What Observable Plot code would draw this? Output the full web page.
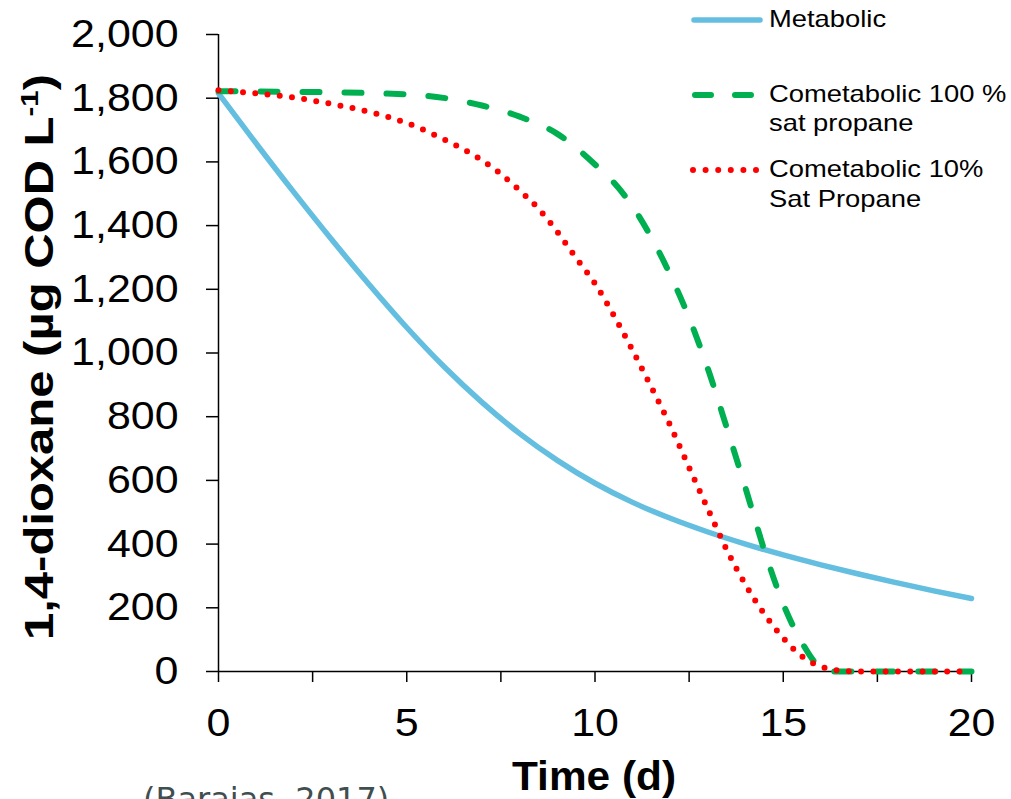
<!DOCTYPE html>
<html>
<head>
<meta charset="utf-8">
<script src="https://cdn.jsdelivr.net/npm/d3@7"></script>
<script src="https://cdn.jsdelivr.net/npm/@observablehq/plot@0.6"></script>
<style>
  html, body { margin: 0; padding: 0; background: #ffffff; overflow: hidden; }
  #chart { width: 1011px; height: 799px; position: relative; }
</style>
</head>
<body>
<div id="chart"></div>
<script>
// ---- Data ----
const metabolicTime   = [0,1,2,3,4,5,6,7,8,9,10,11,12,13,14,15,16,17,18,19,20];
const metabolicValues = [1815,1658,1505,1357,1215,1080,956,845,747,663,591,531,481,438,400,366,335,306,279,253,229];

const co100Time   = [0,2,4,5.5,6.5,7,8,9,10,10.5,11,11.5,12,12.5,13,13.5,14,14.5,15,15.5,16,16.2,17,18,19,20];
const co100Values = [1822,1820,1816,1808,1790,1777,1742,1688,1592,1535,1460,1362,1245,1110,950,765,575,380,212,90,10,0,0,0,0,0];

const co10Time   = [0,1,2,3,4,5,6,7,7.5,8,8.5,9,9.5,10,10.5,11,11.5,12,12.5,13,13.5,14,14.5,15,15.5,16,16.5,17,18,19,20];
const co10Values = [1825,1815,1802,1782,1757,1722,1670,1605,1562,1510,1453,1380,1298,1218,1118,1008,892,772,640,510,382,272,180,105,47,16,3,0,0,0,0];

const xTickValues  = [0,2.5,5,7.5,10,12.5,15,17.5,20];
const xLabelValues = [0,5,10,15,20];
const yTickValues  = [0,200,400,600,800,1000,1200,1400,1600,1800,2000];

const legendLines = [["Metabolic"], ["Cometabolic 100 %", "sat propane"], ["Cometabolic 10%", "Sat Propane"]];
const xTitle = "Time (d)";
const yTitle = "1,4-dioxane (µg COD L";
const yTitleSup = "-1";
const sourceText = "(Barajas, 2017)";

const colors = {metabolic: "#64BEE0", co100: "#00B050", co10: "#FF0000"};

const toRows = (ts, vs) => ts.map((t, i) => ({t, v: vs[i]}));
const metabolic = toRows(metabolicTime, metabolicValues);
const co100 = toRows(co100Time, co100Values);
const co10 = toRows(co10Time, co10Values);

const svg = Plot.plot({
  width: 1011,
  height: 799,
  marginLeft: 218,
  marginRight: 40,
  marginTop: 34,
  marginBottom: 128,
  style: {fontFamily: "'Liberation Sans', Arial, sans-serif", fontSize: "39px", color: "#000", background: "#fff", overflow: "visible"},
  x: {domain: [0, 20]},
  y: {domain: [0, 2000]},
  marks: [
    Plot.axisY({ticks: yTickValues, tickSize: 12, tickPadding: 28, tickFormat: d3.format(","), label: null, strokeWidth: 1.5}),
    Plot.axisX({ticks: xTickValues, tickSize: 11, tickFormat: () => "", label: null, strokeWidth: 1.5}),
    Plot.axisX({ticks: xLabelValues, tickSize: 0, tickPadding: 37, label: null}),
    Plot.ruleX([0], {y1: 0, y2: 2000, stroke: "#000", strokeWidth: 1.5}),
    Plot.ruleY([0], {x1: 0, x2: 20, stroke: "#000", strokeWidth: 1.5}),
    Plot.line(metabolic, {x: "t", y: "v", stroke: colors.metabolic, strokeWidth: 5.5, curve: "monotone-x"}),
    Plot.line(co100, {x: "t", y: "v", stroke: colors.co100, strokeWidth: 6, strokeDasharray: "17,25", strokeLinecap: "round", curve: "monotone-x"}),
    Plot.line(co10, {x: "t", y: "v", stroke: colors.co10, strokeWidth: 6, strokeDasharray: "0,12.3", strokeLinecap: "round", curve: "monotone-x"})
  ]
});

document.getElementById("chart").appendChild(svg);

// stretch tick labels slightly to match the wider face of the original
d3.select(svg).selectAll("text").each(function() {
  const len = this.getComputedTextLength();
  if (len > 0) {
    this.setAttribute("textLength", (len * 1.1).toFixed(1));
    this.setAttribute("lengthAdjust", "spacingAndGlyphs");
  }
});

const s = d3.select(svg);
const ff = "'Liberation Sans', Arial, sans-serif";

// x title
s.append("text")
  .attr("x", 594).attr("y", 790)
  .attr("text-anchor", "middle")
  .attr("font-family", ff).attr("font-size", 40).attr("font-weight", "bold")
  .attr("fill", "#000")
  .attr("textLength", 164).attr("lengthAdjust", "spacingAndGlyphs")
  .text(xTitle);

// y title
const yt = s.append("text")
  .attr("transform", "translate(53,357) rotate(-90)")
  .attr("text-anchor", "middle")
  .attr("font-family", ff).attr("font-size", 40).attr("font-weight", "bold")
  .attr("fill", "#000")
  .attr("textLength", 566).attr("lengthAdjust", "spacingAndGlyphs");
yt.append("tspan").text(yTitle);
yt.append("tspan").attr("font-size", 24).attr("dy", -15).text(yTitleSup);
yt.append("tspan").attr("dy", 15).text(")");

// legend
const lg = s.append("g").attr("aria-label", "legend");
lg.append("line").attr("x1", 694).attr("x2", 760).attr("y1", 20).attr("y2", 20)
  .attr("stroke", colors.metabolic).attr("stroke-width", 5.5).attr("stroke-linecap", "round");
lg.append("line").attr("x1", 695).attr("x2", 756).attr("y1", 95).attr("y2", 95)
  .attr("stroke", colors.co100).attr("stroke-width", 6).attr("stroke-linecap", "round").attr("stroke-dasharray", "16,24");
lg.append("line").attr("x1", 693).attr("x2", 757).attr("y1", 170).attr("y2", 170)
  .attr("stroke", colors.co10).attr("stroke-width", 6).attr("stroke-linecap", "round").attr("stroke-dasharray", "0,12.6");

const legendBaselines = [[27], [102, 131], [177, 207]];
legendLines.forEach((lines, i) => {
  lines.forEach((line, j) => {
    const t = lg.append("text")
      .attr("x", 769).attr("y", legendBaselines[i][j])
      .attr("text-anchor", "start")
      .attr("font-family", ff).attr("font-size", 24).attr("fill", "#000")
      .text(line);
    const len = t.node().getComputedTextLength();
    t.attr("textLength", (len * 1.14).toFixed(1)).attr("lengthAdjust", "spacingAndGlyphs");
  });
});

// source (cut off at the bottom edge, as in the original)
s.append("text")
  .attr("x", 143).attr("y", 810)
  .attr("text-anchor", "start")
  .attr("font-family", "'DejaVu Sans', Verdana, sans-serif").attr("font-size", 32)
  .attr("fill", "#3f4f4f")
  .text(sourceText);
</script>
</body>
</html>
